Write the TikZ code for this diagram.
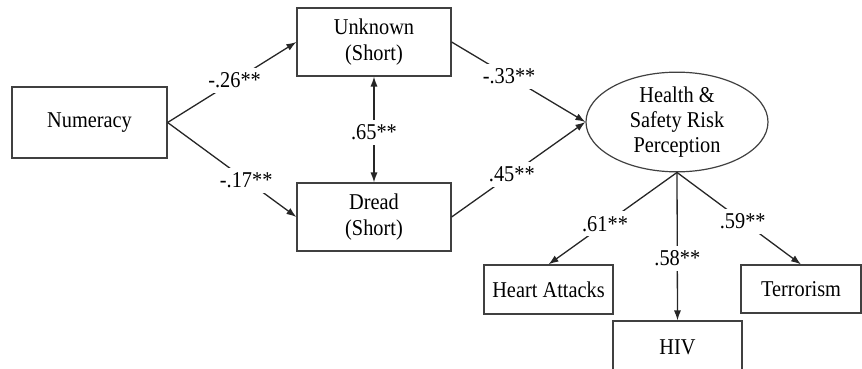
\documentclass[tikz,border=0pt]{standalone}
\usepackage{fontspec}
\setmainfont{Liberation Serif}[FakeStretch=0.9]
\usetikzlibrary{arrows.meta,shapes.geometric}

\tikzset{
  box/.style={draw=black!75, line width=0.6pt, rectangle, inner sep=0pt,
    align=center, font=\fontsize{11.3}{13}\selectfont},
  latent/.style={draw=black!75, line width=0.6pt, ellipse, inner sep=0pt,
    minimum width=91pt, minimum height=47pt, align=center,
    font=\fontsize{11.3}{12.5}\selectfont},
  path/.style={draw=black!85, line width=0.65pt,
    -{Latex[length=5pt,width=3.6pt]}},
  both/.style={draw=black!85, line width=0.65pt,
    {Latex[length=5pt,width=3.6pt]}-{Latex[length=5pt,width=3.6pt]}},
  coef/.style={fill=white, inner sep=2.4pt, font=\fontsize{11.3}{12}\selectfont}
}

\begin{document}
\begin{tikzpicture}[x=0.5pt, y=-0.5pt]
  \useasboundingbox (0,0) rectangle (862,369);
  \clip (0,0) rectangle (862,369);

  % observed predictors
  \node[box, minimum width=77.5pt, minimum height=35.5pt] (num) at (89.5,122.5) {Numeracy};
  \node[box, minimum width=77pt, minimum height=34pt] (unk) at (374,42) {Unknown\\(Short)};
  \node[box, minimum width=77pt, minimum height=34pt] (dre) at (374,217) {Dread\\(Short)};

  % latent outcome
  \node[latent] (risk) at (677,122) {Health \&\\Safety Risk\\Perception};

  % indicators
  \node[box, minimum width=64.5pt, minimum height=24.5pt] (heart) at (548.5,289.5) {Heart Attacks};
  \node[box, minimum width=60pt, minimum height=24pt] (terr) at (801,289) {Terrorism};
  \node[box, minimum width=64.5pt, minimum height=25.5pt, text depth=0pt] (hiv) at (677.5,346.5) {\raisebox{-1pt}{HIV}};

  % structural paths
  \draw[path] (num.east) -- node[coef, pos=0.52] {-.26**} (unk.west);
  \draw[path] (num.east) -- node[coef, pos=0.61] {-.17**} (dre.west);
  \draw[both] (unk.south) -- node[coef, pos=0.53] {.65**} (dre.north);
  \draw[path] (unk.east) -- node[coef, pos=0.43] {-.33**} (risk.west);
  \draw[path] (dre.east) -- node[coef, pos=0.45] {.45**} (risk.west);

  % measurement paths
  \draw[path] (risk.south) -- node[coef, pos=0.56] {.61**} (heart.north);
  \draw[path] (risk.south) -- node[coef, pos=0.58] {.58**} (hiv.north);
  \draw[path] (risk.south) -- node[coef, pos=0.53] {.59**} (terr.north);
\end{tikzpicture}
\end{document}
